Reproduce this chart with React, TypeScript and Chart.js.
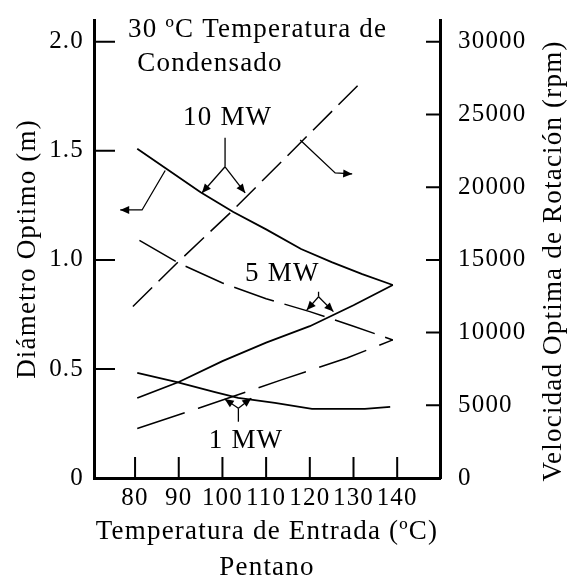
import React, { useEffect, useRef } from 'react';
import { Chart, registerables } from 'chart.js';

Chart.register(...registerables);

const FONT = '"Liberation Serif", "Times New Roman", serif';

// ---- axes ----
const xTicks = [80, 90, 100, 110, 120, 130, 140];
const yTicks = [0, 0.5, 1.0, 1.5, 2.0];
const yTickLabels = ['0', '0.5', '1.0', '1.5', '2.0'];
const y1Ticks = [0, 5000, 10000, 15000, 20000, 25000, 30000];

const xTitle = 'Temperatura de Entrada (ºC)';
const xSubtitle = 'Pentano';
const yTitle = 'Diámetro Optimo (m)';
const y1Title = 'Velocidad Optima de Rotación (rpm)';

// ---- 10 MW ----
const d10T = [80.5, 87, 95, 102.5, 110, 118, 125, 132, 139];
const d10D = [1.51, 1.42, 1.31, 1.22, 1.14, 1.05, 0.99, 0.935, 0.885];
const s10T = [79.5, 90, 102, 117, 131];
const s10R = [11800, 14900, 18300, 22800, 27000];

// ---- 5 MW ----
const d5T = [81, 90, 100, 110, 120, 130, 139];
const d5D = [1.09, 0.985, 0.894, 0.822, 0.763, 0.696, 0.633];
const s5T = [80.5, 90, 100, 110, 120, 130, 139];
const s5R = [5500, 6600, 8040, 9310, 10440, 11880, 13275];

// ---- 1 MW ----
const d1T = [80.5, 89.6, 98.3, 103.6, 112, 120.5, 132.6, 138.4];
const d1D = [0.482, 0.44, 0.394, 0.367, 0.344, 0.317, 0.317, 0.326];
const s1T = [80.5, 94.5, 113.5, 128.5, 139];
const s1R = [3400, 4800, 6750, 8250, 9500];

// ---- annotation arrows (T, m) ----
const arrowLeftT = [86.9, 81.6, 76.6];
const arrowLeftD = [1.41, 1.229, 1.229];
const arrowRightT = [117.8, 125.8, 129.7];
const arrowRightD = [1.55, 1.399, 1.394];
const mw10StemT = [100.6, 100.6];
const mw10StemD = [1.56, 1.427];
const mw10AT = [100.6, 95.3];
const mw10AD = [1.427, 1.307];
const mw10BT = [100.6, 105.2];
const mw10BD = [1.427, 1.307];
const mw5StemT = [122, 122];
const mw5StemD = [0.854, 0.831];
const mw5AT = [122, 119.3];
const mw5AD = [0.831, 0.77];
const mw5BT = [122, 125.4];
const mw5BD = [0.831, 0.763];
const mw1StemT = [103.65, 103.65];
const mw1StemD = [0.258, 0.32];
const mw1AT = [103.65, 100.5];
const mw1AD = [0.32, 0.362];
const mw1BT = [103.65, 106.6];
const mw1BD = [0.32, 0.366];

// ---- annotation texts ----
const noteTexts = ['30 ºC Temperatura de', 'Condensado', '10 MW', '5 MW', '1 MW'];
const noteT = [78.4, 80.5, 101.2, 113.7, 105.4];
const noteD = [2.054, 1.898, 1.653, 0.935, 0.17];
const noteAlign: CanvasTextAlign[] = ['left', 'left', 'center', 'center', 'center'];

const pts = (xs: number[], ys: number[]) => xs.map((x, i) => ({ x, y: ys[i] }));

const curve = (xs: number[], ys: number[], axis: string, dash: number[], width: number) => ({
  data: pts(xs, ys),
  yAxisID: axis,
  showLine: true,
  borderColor: '#000',
  backgroundColor: '#000',
  borderWidth: width,
  borderDash: dash,
  pointRadius: 0,
  pointHoverRadius: 0,
  tension: 0,
  fill: false,
});

const arrow = (xs: number[], ys: number[], head: boolean) => ({
  ...curve(xs, ys, 'y', [], 1.3),
  arrowHead: head,
});

const noPad = (s: any) => {
  s.paddingTop = 0;
  s.paddingBottom = 0;
  s.paddingLeft = 0;
  s.paddingRight = 0;
};

const decorPlugin = {
  id: 'decor',
  beforeLayout(chart: any) {
    chart.ctx.letterSpacing = '1.2px';
  },
  beforeDraw(chart: any) {
    chart.ctx.letterSpacing = '1.2px';
  },
  afterDatasetsDraw(chart: any) {
    const { ctx, chartArea } = chart;
    const xs = chart.scales.x;
    const ys = chart.scales.y;
    const y1s = chart.scales.y1;
    ctx.save();
    ctx.strokeStyle = '#000';
    ctx.fillStyle = '#000';
    ctx.lineWidth = 2;
    ctx.setLineDash([]);
    // inward tick marks
    ctx.beginPath();
    yTicks.forEach((v) => {
      if (v === 0) return;
      const p = ys.getPixelForValue(v);
      ctx.moveTo(chartArea.left, p);
      ctx.lineTo(chartArea.left + 21, p);
    });
    y1Ticks.forEach((v) => {
      if (v === 0) return;
      const p = y1s.getPixelForValue(v);
      ctx.moveTo(chartArea.right, p);
      ctx.lineTo(chartArea.right - 14, p);
    });
    xTicks.forEach((v) => {
      const p = xs.getPixelForValue(v);
      ctx.moveTo(p, chartArea.bottom);
      ctx.lineTo(p, chartArea.bottom - 21);
    });
    ctx.stroke();

    // arrow heads
    chart.data.datasets.forEach((ds: any, i: number) => {
      if (!ds.arrowHead) return;
      const meta = chart.getDatasetMeta(i);
      const n = meta.data.length;
      const a = meta.data[n - 2];
      const b = meta.data[n - 1];
      const dx = b.x - a.x;
      const dy = b.y - a.y;
      const len = Math.hypot(dx, dy) || 1;
      const ux = dx / len;
      const uy = dy / len;
      const L = 9;
      const W = 4;
      ctx.beginPath();
      ctx.moveTo(b.x, b.y);
      ctx.lineTo(b.x - ux * L - uy * W, b.y - uy * L + ux * W);
      ctx.lineTo(b.x - ux * L + uy * W, b.y - uy * L - ux * W);
      ctx.closePath();
      ctx.fill();
    });

    // annotation texts
    ctx.font = `27px ${FONT}`;
    ctx.textBaseline = 'middle';
    noteTexts.forEach((t, i) => {
      ctx.textAlign = noteAlign[i];
      ctx.fillText(t, xs.getPixelForValue(noteT[i]), ys.getPixelForValue(noteD[i]));
    });

    // right axis title (reads bottom-to-top)
    ctx.translate(chart.width - 23, (chartArea.top + chartArea.bottom) / 2 + 12);
    ctx.rotate(-Math.PI / 2);
    ctx.textAlign = 'center';
    ctx.fillText(y1Title, 0, 0);
    ctx.restore();
  },
};

export default function App() {
  const ref = useRef<HTMLCanvasElement>(null);

  useEffect(() => {
    const canvas = ref.current;
    if (!canvas) return;
    const tickFont = { family: FONT, size: 25, lineHeight: 1.2 };
    const titleFont = { family: FONT, size: 27, lineHeight: 1.3 };
    const chart = new Chart(canvas, {
      type: 'scatter',
      data: {
        datasets: [
          curve(d10T, d10D, 'y', [], 1.8),
          curve(s10T, s10R, 'y1', [27, 9], 1.5),
          curve(d5T, d5D, 'y', [42, 11], 1.5),
          curve(s5T, s5R, 'y1', [], 1.8),
          curve(d1T, d1D, 'y', [], 1.8),
          curve(s1T, s1R, 'y1', [50, 14], 1.5),
          arrow(arrowLeftT, arrowLeftD, true),
          arrow(arrowRightT, arrowRightD, true),
          arrow(mw10StemT, mw10StemD, false),
          arrow(mw10AT, mw10AD, true),
          arrow(mw10BT, mw10BD, true),
          arrow(mw5StemT, mw5StemD, false),
          arrow(mw5AT, mw5AD, true),
          arrow(mw5BT, mw5BD, true),
          arrow(mw1StemT, mw1StemD, false),
          arrow(mw1AT, mw1AD, true),
          arrow(mw1BT, mw1BD, true),
        ] as any,
      },
      options: {
        animation: false,
        responsive: true,
        maintainAspectRatio: false,
        color: '#000',
        layout: { padding: { top: 20, left: 0, right: 0, bottom: 0 } },
        plugins: {
          legend: { display: false },
          tooltip: { enabled: false },
        },
        events: [],
        scales: {
          x: {
            type: 'linear',
            position: 'bottom',
            min: 70.6,
            max: 149.8,
            afterBuildTicks: (s: any) => {
              s.ticks = xTicks.map((v) => ({ value: v }));
            },
            afterFit: (s: any) => {
              s.height = 102;
              noPad(s);
            },
            grid: { display: false, drawTicks: false },
            border: { display: true, width: 3, color: '#000' },
            ticks: {
              color: '#000',
              font: tickFont,
              padding: 5,
              autoSkip: false,
              maxRotation: 0,
              minRotation: 0,
              callback: (v: any) => String(v),
            },
            title: {
              display: true,
              text: [xTitle, xSubtitle],
              color: '#000',
              font: titleFont,
              padding: { top: 0, bottom: -5 },
            },
          },
          y: {
            type: 'linear',
            position: 'left',
            min: 0,
            max: 2.1,
            afterBuildTicks: (s: any) => {
              s.ticks = yTicks.map((v) => ({ value: v }));
            },
            afterFit: (s: any) => {
              s.width = 94;
              noPad(s);
            },
            grid: { display: false, drawTicks: false },
            border: { display: true, width: 3, color: '#000' },
            ticks: {
              color: '#000',
              font: tickFont,
              padding: 10,
              autoSkip: false,
              callback: (v: any) => {
                const i = yTicks.findIndex((t) => Math.abs(t - v) < 1e-9);
                return i >= 0 ? yTickLabels[i] : '';
              },
            },
            title: {
              display: true,
              text: yTitle,
              color: '#000',
              font: titleFont,
              padding: { top: 10, bottom: 0 },
            },
          },
          y1: {
            type: 'linear',
            position: 'right',
            min: 0,
            max: 31500,
            afterBuildTicks: (s: any) => {
              s.ticks = y1Ticks.map((v) => ({ value: v }));
            },
            afterFit: (s: any) => {
              s.width = 137;
              noPad(s);
            },
            grid: { display: false, drawTicks: false },
            border: { display: true, width: 3, color: '#000' },
            ticks: {
              color: '#000',
              font: tickFont,
              padding: 18,
              autoSkip: false,
              callback: (v: any) => String(v),
            },
          },
        },
      } as any,
      plugins: [decorPlugin],
    });
    return () => chart.destroy();
  }, []);

  return (
    <div style={{ position: 'absolute', left: 0, top: 0, width: 577, height: 580, background: '#fff' }}>
      <canvas ref={ref} />
    </div>
  );
}
